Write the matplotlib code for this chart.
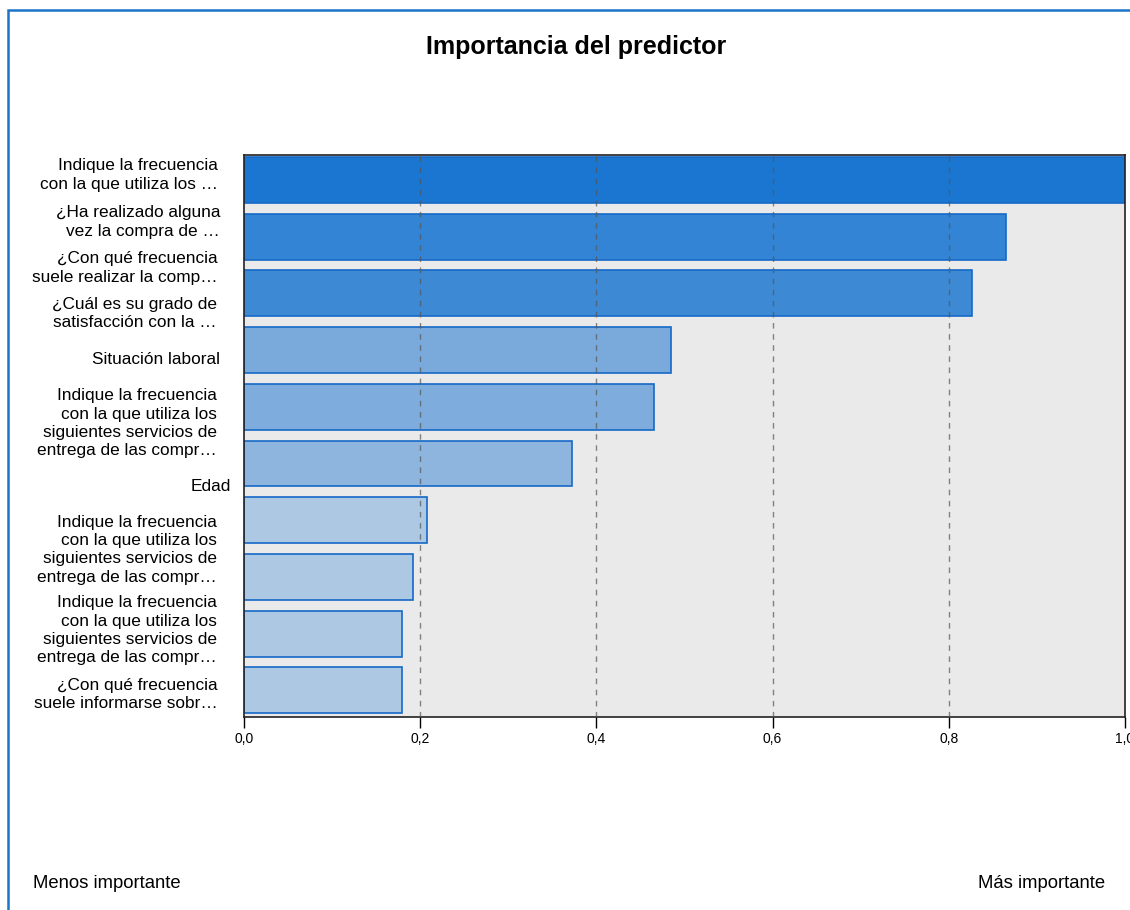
import numpy as np
import matplotlib
matplotlib.use("Agg")
import matplotlib.pyplot as plt
from matplotlib.patches import Rectangle
from matplotlib.transforms import blended_transform_factory
from matplotlib.ticker import FuncFormatter

plt.rcParams['font.family'] = ['Liberation Sans', 'DejaVu Sans']

# predictor labels, top to bottom
labels = [
    "Indique la frecuencia\ncon la que utiliza los \u2026",
    "\u00bfHa realizado alguna\nvez la compra de \u2026",
    "\u00bfCon qu\u00e9 frecuencia\nsuele realizar la comp\u2026",
    "\u00bfCu\u00e1l es su grado de\nsatisfacci\u00f3n con la \u2026",
    "Situaci\u00f3n laboral",
    "Indique la frecuencia\ncon la que utiliza los\nsiguientes servicios de\nentrega de las compr\u2026",
    "Edad",
    "Indique la frecuencia\ncon la que utiliza los\nsiguientes servicios de\nentrega de las compr\u2026",
    "Indique la frecuencia\ncon la que utiliza los\nsiguientes servicios de\nentrega de las compr\u2026",
    "\u00bfCon qu\u00e9 frecuencia\nsuele informarse sobr\u2026",
]
importance = [1.0, 0.865, 0.826, 0.485, 0.465, 0.372, 0.208, 0.192, 0.179, 0.179]
bar_colors = ["#1a76d0", "#3384d5", "#3d89d3", "#7aaadc", "#7eacdc", "#8db5de",
              "#adc8e3", "#adc8e3", "#adc8e3", "#adc8e3"]
# label placement (SPSS stacks the labels, they don't line up with bars)
label_pos = [-0.09, 0.74, 1.55, 2.36, 3.16, 4.29, 5.41, 6.52, 7.94, 9.07]
label_x = [218, 220, 218, 217, 220, 217, 231, 217, 217, 218]

W, H = 1130, 910
fig = plt.figure(figsize=(W / 100, H / 100), dpi=100)
ax = fig.add_axes([244 / W, 1 - 717 / H, 881 / W, 562 / H])

y = np.arange(len(importance))
ax.barh(y, importance, height=0.81, color=bar_colors, edgecolor="#1569c7",
        linewidth=1.2, zorder=2)
ax.set_facecolor("#eaeaea")
ax.set_xlim(0, 1.0)
ax.set_ylim(9.47, -0.44)
ax.set_yticks([])
ax.set_xticks([0, 0.2, 0.4, 0.6, 0.8, 1.0])
ax.xaxis.set_major_formatter(FuncFormatter(lambda v, p: f"{v:.1f}".replace(".", ",")))
ax.tick_params(axis="x", length=8, width=1, labelsize=10, pad=3)
for s in ax.spines.values():
    s.set_linewidth(1.2)
    s.set_color("#222222")
for gx in [0.2, 0.4, 0.6, 0.8]:
    ax.axvline(gx, color="#555555", linestyle=(0, (4, 4)), linewidth=1,
               alpha=0.7, zorder=3)

trans = blended_transform_factory(fig.transFigure, ax.transData)
for lab, pos, lx in zip(labels, label_pos, label_x):
    ax.text(lx / W, pos, lab, transform=trans, ha="right", va="center",
            fontsize=12.4, linespacing=1.28, multialignment="right")

fig.text(576 / W, 1 - 47 / H, "Importancia del predictor", ha="center", va="center",
         fontsize=18, fontweight="bold")
fig.text(33 / W, 1 - 884 / H, "Menos importante", ha="left", va="center", fontsize=13.3)
fig.text(1105 / W, 1 - 884 / H, "M\u00e1s importante", ha="right", va="center", fontsize=13.3)

# outer blue frame (cut off at right and bottom)
fig.patches.append(Rectangle((8 / W, -0.1), 1.2, 1 - 10 / H + 0.1, transform=fig.transFigure,
                             fill=False, edgecolor="#1a75c8", linewidth=1.8))

fig.savefig("out.png", dpi=100)
